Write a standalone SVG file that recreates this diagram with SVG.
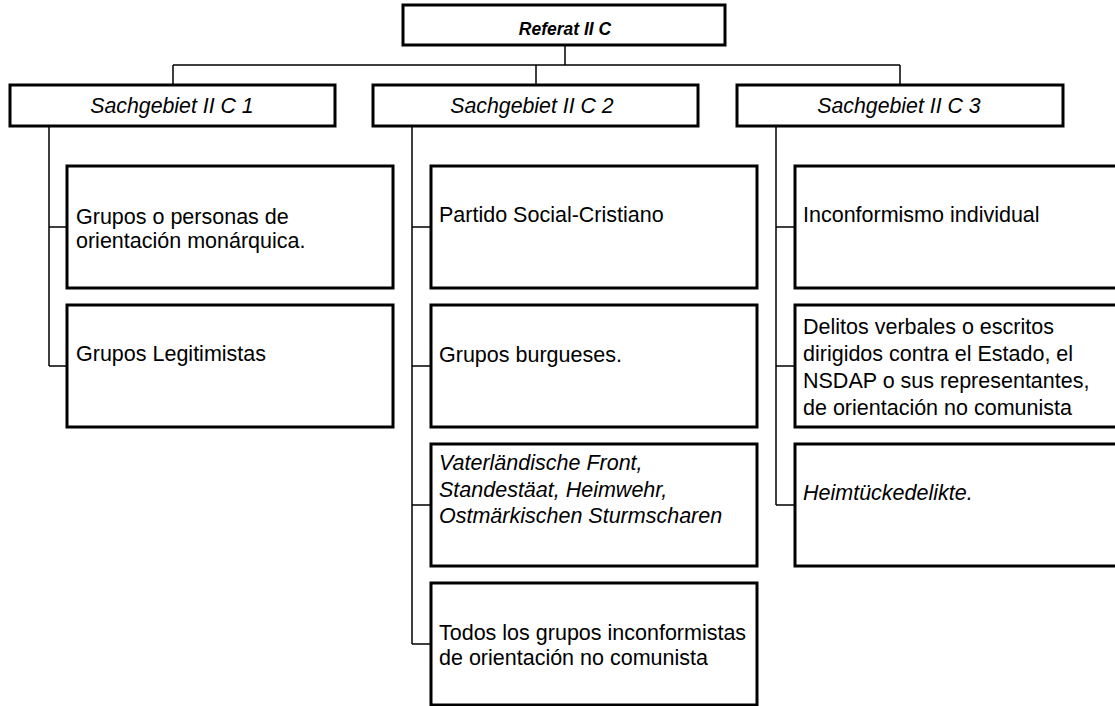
<svg xmlns="http://www.w3.org/2000/svg" width="1115" height="706" viewBox="0 0 1115 706">
  <style>
    .box { fill: #ffffff; stroke: #000000; stroke-width: 3; }
    .link { fill: none; stroke: #000000; stroke-width: 1.5; }
    .head { font-family: "Liberation Sans", Arial, sans-serif; font-size: 17.5px; font-weight: bold; font-style: italic; text-anchor: middle; fill: #000; }
    .sub { font-family: "Liberation Sans", Arial, sans-serif; font-size: 21.3px; font-style: italic; text-anchor: middle; fill: #000; }
    .item { font-family: "Liberation Sans", Arial, sans-serif; font-size: 21.5px; fill: #000; }
    .it { font-style: italic; }
  </style>

  <!-- connectors -->
  <g id="connectors">
    <path class="link" d="M565 45 V65 M173 65 H900 M173 65 V85 M536 65 V85 M900 65 V85"/>
    <path class="link" d="M49 126 V366 M49 227 H67 M49 366 H67"/>
    <path class="link" d="M412 126 V644 M412 227 H431 M412 366 H431 M412 505 H431 M412 644 H431"/>
    <path class="link" d="M776 126 V505 M776 227 H795 M776 366 H795 M776 505 H795"/>
  </g>

  <!-- root -->
  <g id="referat">
    <rect class="box" x="403" y="5" width="322" height="40"/>
    <text class="head" x="565" y="35">Referat II C</text>
  </g>

  <!-- second level -->
  <g id="sachgebiet-1">
    <rect class="box" x="10" y="85" width="325" height="41"/>
    <text class="sub" x="172" y="113">Sachgebiet II C 1</text>
  </g>
  <g id="sachgebiet-2">
    <rect class="box" x="373" y="85" width="325" height="41"/>
    <text class="sub" x="532" y="113">Sachgebiet II C 2</text>
  </g>
  <g id="sachgebiet-3">
    <rect class="box" x="737" y="85" width="326" height="41"/>
    <text class="sub" x="899" y="113">Sachgebiet II C 3</text>
  </g>

  <!-- column 1 -->
  <g id="c1-monarquica">
    <rect class="box" x="67" y="166" width="326" height="122"/>
    <text class="item" x="76" y="224">Grupos o personas de</text>
    <text class="item" x="76" y="248">orientación monárquica.</text>
  </g>
  <g id="c1-legitimistas">
    <rect class="box" x="67" y="305" width="326" height="122"/>
    <text class="item" x="76" y="361">Grupos Legitimistas</text>
  </g>

  <!-- column 2 -->
  <g id="c2-partido">
    <rect class="box" x="431" y="166" width="326" height="122"/>
    <text class="item" x="439" y="222">Partido Social-Cristiano</text>
  </g>
  <g id="c2-burgueses">
    <rect class="box" x="431" y="305" width="326" height="122"/>
    <text class="item" x="439" y="362">Grupos burgueses.</text>
  </g>
  <g id="c2-vaterlaendische">
    <rect class="box" x="431" y="444" width="326" height="122"/>
    <text class="item it" x="439" y="470">Vaterländische Front,</text>
    <text class="item it" x="439" y="497">Standestäat, Heimwehr,</text>
    <text class="item it" x="439" y="523">Ostmärkischen Sturmscharen</text>
  </g>
  <g id="c2-inconformistas">
    <rect class="box" x="431" y="583" width="326" height="122"/>
    <text class="item" x="439" y="640">Todos los grupos inconformistas</text>
    <text class="item" x="439" y="665">de orientación no comunista</text>
  </g>

  <!-- column 3 -->
  <g id="c3-individual">
    <rect class="box" x="795" y="166" width="326" height="122"/>
    <text class="item" x="803" y="222">Inconformismo individual</text>
  </g>
  <g id="c3-delitos">
    <rect class="box" x="795" y="305" width="326" height="122"/>
    <text class="item" x="803" y="334">Delitos verbales o escritos</text>
    <text class="item" x="803" y="361">dirigidos contra el Estado, el</text>
    <text class="item" x="803" y="388">NSDAP o sus representantes,</text>
    <text class="item" x="803" y="415">de orientación no comunista</text>
  </g>
  <g id="c3-heimtuecke">
    <rect class="box" x="795" y="444" width="326" height="122"/>
    <text class="item it" x="803" y="500">Heimtückedelikte.</text>
  </g>
</svg>
